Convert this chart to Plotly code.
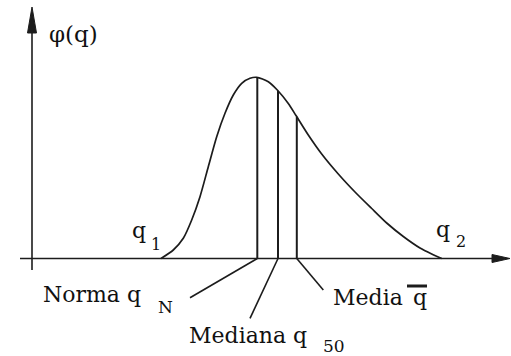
import numpy as np
import plotly.graph_objects as go

# Skewed frequency curve phi(q) between q1 and q2
curve_q = [129, 141.3, 151.3, 159.7, 168, 176.3, 184.7, 193, 201.3, 209.7, 218,
           224.7, 236.3, 245.3, 256.3, 264, 276.3, 289.7, 306.3, 323, 339.7,
           354.7, 371.3, 388, 399.7, 409.7]
curve_phi = [0, 8.5, 20.2, 38.5, 61.8, 91.8, 121.8, 145.2, 163.5, 175.2, 180.2,
             181.2, 176.8, 168.5, 155.0, 143.0, 123.5, 104.5, 84.5, 66.5, 50.0,
             35.5, 22.0, 10.5, 4.5, 0]

# Characteristic values: mode (norma), median, mean
stat_names = ["norma", "mediana", "media"]
stat_q = [225.3, 246.0, 264.8]

# Where each leader line from a stat foot ends (next to its label)
leader_end = {"norma": (158, -39.2), "mediana": (218, -59.8), "media": (291.3, -31.5)}

INK = "#1c1c1c"
FONT = "DejaVu Serif"

fig = go.Figure()

fig.add_trace(go.Scatter(
    x=curve_q, y=curve_phi, mode="lines",
    line=dict(color=INK, width=1.7, shape="spline", smoothing=0.7),
    hoverinfo="skip", showlegend=False,
))

# Vertical lines from the q axis up to the curve, plus leader lines to the labels
for name, q in zip(stat_names, stat_q):
    top = float(np.interp(q, curve_q, curve_phi))
    fig.add_trace(go.Scatter(
        x=[q, q], y=[0, top], mode="lines",
        line=dict(color=INK, width=2), hoverinfo="skip", showlegend=False,
    ))
    ex, ey = leader_end[name]
    fig.add_trace(go.Scatter(
        x=[q, ex], y=[0, ey], mode="lines",
        line=dict(color=INK, width=1.6), hoverinfo="skip", showlegend=False,
    ))

shapes = [
    # q axis with arrowhead
    dict(type="line", x0=-12, y0=0, x1=462, y1=0, line=dict(color=INK, width=1.6)),
    dict(type="path", path="M 478 0 L 460 4 L 460 -4 Z", fillcolor=INK, line=dict(color=INK, width=1)),
    # phi axis with arrowhead
    dict(type="line", x0=0, y0=-11.5, x1=0, y1=228, line=dict(color=INK, width=1.6)),
    dict(type="path", path="M 0 251.5 L -4.5 225.5 L 4.5 225.5 Z", fillcolor=INK, line=dict(color=INK, width=1)),
    # bar over the mean symbol
    dict(type="line", x0=375, y0=-27.5, x1=395, y1=-27.5, line=dict(color=INK, width=3)),
]

def label(text, x, y, size):
    return dict(text=text, x=x, y=y, xref="x", yref="y", xanchor="left", yanchor="middle",
                showarrow=False, borderpad=0, font=dict(family=FONT, size=size, color="#111111"))

annotations = [
    label("φ(q)", 16, 224.5, 23),
    label("q", 99, 28.2, 22),
    label("1", 118, 14.1, 16),
    label("q", 403, 29.2, 22),
    label("2", 423, 17.1, 16),
    label("Norma q", 9.7, -35.5, 22),
    label("N", 124.7, -48.9, 17),
    label("Mediana q", 156.3, -77.1, 22),
    label("50", 289.7, -87.6, 17),
    label("Media", 299.7, -38.8, 22),
    label("q", 380, -38.8, 22),
]

fig.update_layout(
    width=511, height=356,
    margin=dict(l=0, r=0, t=0, b=0),
    paper_bgcolor="white", plot_bgcolor="white",
    xaxis=dict(range=[-32, 479], visible=False, fixedrange=True),
    yaxis=dict(range=[-97.5, 258.5], visible=False, fixedrange=True),
    shapes=shapes, annotations=annotations,
    showlegend=False,
)

fig.write_html("out.html", config={"displayModeBar": False})
